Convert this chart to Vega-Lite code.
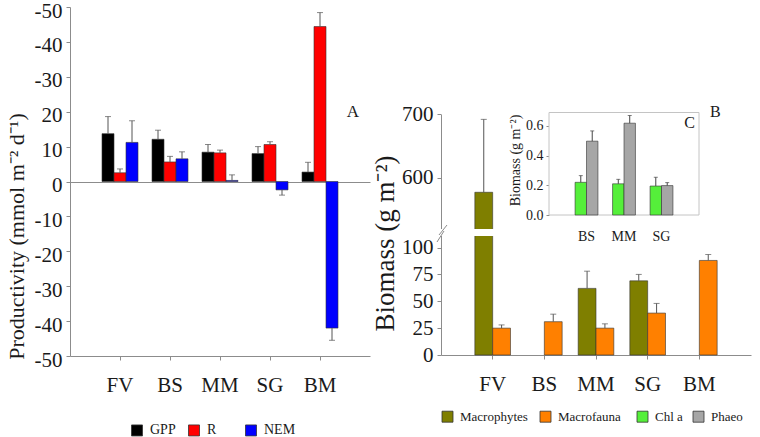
{
  "$schema": "https://vega.github.io/schema/vega-lite/v6.json",
  "width": 760,
  "height": 437,
  "autosize": {"type": "none"},
  "padding": 0,
  "background": "white",
  "config": {
    "view": {"stroke": null},
    "font": "Liberation Serif",
    "axis": {
      "labelFont": "Liberation Serif",
      "titleFont": "Liberation Serif",
      "labelColor": "#1a1a1a",
      "titleColor": "#1a1a1a",
      "titleFontWeight": "normal",
      "domainColor": "#8c8c8c",
      "tickColor": "#8c8c8c",
      "tickSize": 4,
      "grid": false
    },
    "legend": {
      "labelFont": "Liberation Serif",
      "labelFontSize": 13,
      "labelColor": "#1a1a1a",
      "symbolType": "square",
      "symbolSize": 121,
      "symbolStrokeColor": "#333333",
      "symbolStrokeWidth": 0.8,
      "symbolOpacity": 1,
      "labelOffset": 6,
      "padding": 0
    }
  },
  "datasets": {
    "prod": [
      {"site": "FV", "var": "GPP", "value": 13.7, "hi": 18.6},
      {"site": "FV", "var": "R", "value": 2.5, "hi": 3.6},
      {"site": "FV", "var": "NEM", "value": 11.2, "hi": 17.4},
      {"site": "BS", "var": "GPP", "value": 12.1, "hi": 14.7},
      {"site": "BS", "var": "R", "value": 5.6, "hi": 7.2},
      {"site": "BS", "var": "NEM", "value": 6.5, "hi": 8.5},
      {"site": "MM", "var": "GPP", "value": 8.4, "hi": 10.6},
      {"site": "MM", "var": "R", "value": 8.2, "hi": 9.0},
      {"site": "MM", "var": "NEM", "value": 0.3, "hi": 1.9},
      {"site": "SG", "var": "GPP", "value": 8.0, "hi": 10.0},
      {"site": "SG", "var": "R", "value": 10.6, "hi": 11.4},
      {"site": "SG", "var": "NEM", "value": -2.4, "hi": -3.9},
      {"site": "BM", "var": "GPP", "value": 2.7, "hi": 5.5},
      {"site": "BM", "var": "R", "value": 44.4, "hi": 48.4},
      {"site": "BM", "var": "NEM", "value": -42.0, "hi": -45.5}
    ],
    "bio": [
      {"site": "FV", "var": "Macrophytes", "value": 577, "hi": 692},
      {"site": "FV", "var": "Macrofauna", "value": 25, "hi": 28},
      {"site": "BS", "var": "Macrofauna", "value": 31, "hi": 38},
      {"site": "MM", "var": "Macrophytes", "value": 62, "hi": 78},
      {"site": "MM", "var": "Macrofauna", "value": 25, "hi": 29},
      {"site": "SG", "var": "Macrophytes", "value": 69, "hi": 75},
      {"site": "SG", "var": "Macrofauna", "value": 39, "hi": 48},
      {"site": "BM", "var": "Macrofauna", "value": 88, "hi": 93.5}
    ],
    "pig": [
      {"site": "BS", "var": "Chl a", "value": 0.22, "hi": 0.265},
      {"site": "BS", "var": "Phaeo", "value": 0.497, "hi": 0.566},
      {"site": "MM", "var": "Chl a", "value": 0.21, "hi": 0.24},
      {"site": "MM", "var": "Phaeo", "value": 0.618, "hi": 0.67},
      {"site": "SG", "var": "Chl a", "value": 0.195, "hi": 0.254},
      {"site": "SG", "var": "Phaeo", "value": 0.198, "hi": 0.218}
    ]
  },
  "resolve": {
    "scale": {"x": "independent", "y": "independent", "xOffset": "independent", "color": "independent", "x2": "independent", "y2": "independent"},
    "axis": {"x": "independent", "y": "independent"},
    "legend": {"color": "independent"}
  },
  "layer": [
    {
      "data": {"name": "prod"},
      "layer": [
        {
          "mark": {"type": "bar", "stroke": "#333333", "strokeWidth": 0.6},
          "encoding": {
            "x": {
              "field": "site", "type": "nominal", "sort": null,
              "scale": {"domain": ["FV", "BS", "MM", "SG", "BM"], "range": [70, 370], "paddingInner": 0.28, "paddingOuter": 0.64},
              "axis": {"orient": "bottom", "offset": -81, "title": null, "labelFontSize": 21, "labelAngle": 0, "labelPadding": 14}
            },
            "xOffset": {
              "field": "var", "type": "nominal",
              "scale": {"domain": ["GPP", "R", "NEM"], "paddingInner": 0, "paddingOuter": 0}
            },
            "y": {
              "field": "value", "type": "quantitative",
              "scale": {"domain": [-50, 50], "range": [356, 7], "nice": false, "zero": false},
              "axis": {
                "orient": "left", "offset": -70,
                "values": [-50, -40, -30, -20, -10, 0, 10, 20, 30, 40, 50],
                "labelExpr": "(datum.value > 20 || datum.value < 0) ? '-' + abs(datum.value) : '' + datum.value",
                "labelFontSize": 21, "labelPadding": 4, "labelOffset": 4,
                "title": "Productivity (mmol m⁻² d⁻¹)", "titleFontSize": 22, "titlePadding": 6, "titleY": 236,
                "grid": true,
                "gridColor": {"condition": {"test": "datum.value === 0", "value": "#8c8c8c"}, "value": "transparent"},
                "gridWidth": 1
              }
            },
            "color": {
              "field": "var", "type": "nominal",
              "scale": {"domain": ["GPP", "R", "NEM"], "range": ["#000000", "#ff0000", "#0000ff"]},
              "legend": {
                "orient": "none", "legendX": 130, "legendY": 423, "direction": "horizontal", "title": null, "gridAlign": "all", "columnPadding": 4,
                "labelFont": "Liberation Serif", "labelFontSize": 14
              }
            }
          }
        },
        {
          "mark": {"type": "rule", "color": "#555555", "strokeWidth": 1},
          "encoding": {
            "x": {"field": "site", "type": "nominal", "sort": null},
            "xOffset": {"field": "var", "type": "nominal"},
            "y": {"field": "value", "type": "quantitative"},
            "y2": {"field": "hi"}
          }
        },
        {
          "mark": {"type": "tick", "color": "#555555", "size": 6, "thickness": 1, "orient": "horizontal"},
          "encoding": {
            "x": {"field": "site", "type": "nominal", "sort": null},
            "xOffset": {"field": "var", "type": "nominal"},
            "y": {"field": "hi", "type": "quantitative"}
          }
        },
        {
          "data": {"values": [{"t": "A"}]},
          "mark": {"type": "text", "fontSize": 17, "dx": 33, "baseline": "middle", "color": "#1a1a1a", "font": "Liberation Serif"},
          "encoding": {
            "x": {"datum": "BM", "type": "nominal"},
            "y": {"datum": 20, "type": "quantitative"},
            "text": {"field": "t"}
          }
        }
      ]
    },
    {
      "data": {"name": "bio"},
      "layer": [
        {
          "mark": {"type": "bar", "stroke": "#333333", "strokeWidth": 0.6},
          "encoding": {
            "x": {
              "field": "site", "type": "nominal", "sort": null,
              "scale": {"domain": ["FV", "BS", "MM", "SG", "BM"], "range": [441, 751], "paddingInner": 0.31, "paddingOuter": 0.655},
              "axis": {"orient": "bottom", "offset": -82, "title": null, "labelFontSize": 21, "labelAngle": 0, "labelPadding": 14}
            },
            "xOffset": {
              "field": "var", "type": "nominal",
              "scale": {"domain": ["Macrophytes", "Macrofauna"], "paddingInner": 0, "paddingOuter": 0}
            },
            "y": {
              "field": "value", "type": "quantitative",
              "scale": {"domain": [0, 110, 520, 700], "range": [355, 236.8, 228.4, 114.3], "nice": false, "zero": false},
              "axis": {
                "orient": "left", "offset": -441,
                "values": [0, 25, 50, 75, 100, 600, 700],
                "labelFontSize": 21, "labelPadding": 4,
                "title": "Biomass (g m⁻²)", "titleFontSize": 27, "titlePadding": 2, "titleY": 243
              }
            },
            "color": {
              "field": "var", "type": "nominal",
              "scale": {"domain": ["Macrophytes", "Macrofauna"], "range": ["#7f7f00", "#ff8000"]},
              "legend": {
                "orient": "none", "legendX": 441, "legendY": 410, "direction": "horizontal", "title": null, "columnPadding": 10,
                "labelFont": "Liberation Serif", "labelFontSize": 13
              }
            }
          }
        },
        {
          "mark": {"type": "rule", "color": "#555555", "strokeWidth": 1},
          "encoding": {
            "x": {"field": "site", "type": "nominal", "sort": null},
            "xOffset": {"field": "var", "type": "nominal"},
            "y": {"field": "value", "type": "quantitative"},
            "y2": {"field": "hi"}
          }
        },
        {
          "mark": {"type": "tick", "color": "#555555", "size": 6, "thickness": 1, "orient": "horizontal"},
          "encoding": {
            "x": {"field": "site", "type": "nominal", "sort": null},
            "xOffset": {"field": "var", "type": "nominal"},
            "y": {"field": "hi", "type": "quantitative"}
          }
        },
        {
          "data": {"values": [{"t": "B"}]},
          "mark": {"type": "text", "fontSize": 16, "dx": 16, "baseline": "middle", "color": "#1a1a1a", "font": "Liberation Serif"},
          "encoding": {
            "x": {"datum": "BM", "type": "nominal"},
            "y": {"datum": 704, "type": "quantitative"},
            "text": {"field": "t"}
          }
        }
      ]
    },
    {
      "data": {"values": [{"k": 1}]},
      "layer": [
        {
          "mark": {"type": "rect", "fill": "white", "stroke": null},
          "encoding": {
            "x": {"datum": 0, "type": "quantitative", "scale": {"domain": [0, 60], "range": [436, 496], "nice": false, "zero": false}, "axis": null},
            "x2": {"datum": 60},
            "y": {"datum": 2, "type": "quantitative", "scale": {"domain": [0, 12], "range": [238, 226], "nice": false, "zero": false}, "axis": null},
            "y2": {"datum": 9}
          }
        },
        {
          "mark": {"type": "rule", "color": "#8c8c8c", "strokeWidth": 1},
          "encoding": {
            "x": {"datum": 1, "type": "quantitative"},
            "x2": {"datum": 8},
            "y": {"datum": -4, "type": "quantitative"},
            "y2": {"datum": 7}
          }
        },
        {
          "mark": {"type": "rule", "color": "#8c8c8c", "strokeWidth": 1},
          "encoding": {
            "x": {"datum": 3, "type": "quantitative"},
            "x2": {"datum": 11},
            "y": {"datum": 3, "type": "quantitative"},
            "y2": {"datum": 13}
          }
        }
      ]
    },
    {
      "data": {"values": [{"k": 1}]},
      "mark": {"type": "rect", "fill": "white", "stroke": "#c4c4c4", "strokeWidth": 1},
      "encoding": {
        "x": {"datum": 0, "type": "quantitative", "scale": {"domain": [0, 1], "range": [549, 699], "nice": false, "zero": false}, "axis": null},
        "x2": {"datum": 1},
        "y": {"datum": 0, "type": "quantitative", "scale": {"domain": [0, 1], "range": [215, 112.5], "nice": false, "zero": false}, "axis": null},
        "y2": {"datum": 1}
      }
    },
    {
      "data": {"name": "pig"},
      "layer": [
        {
          "mark": {"type": "bar", "stroke": "#333333", "strokeWidth": 0.6},
          "encoding": {
            "x": {
              "field": "site", "type": "nominal", "sort": null,
              "scale": {"domain": ["BS", "MM", "SG"], "range": [549, 699], "paddingInner": 0.39, "paddingOuter": 0.695},
              "axis": {"orient": "bottom", "offset": -222, "title": null, "labelFontSize": 14, "labelAngle": 0, "labelPadding": 14, "ticks": false, "domain": false}
            },
            "xOffset": {
              "field": "var", "type": "nominal",
              "scale": {"domain": ["Chl a", "Phaeo"], "paddingInner": 0, "paddingOuter": 0}
            },
            "y": {
              "field": "value", "type": "quantitative",
              "scale": {"domain": [0, 0.69], "range": [215, 112.5], "nice": false, "zero": false},
              "axis": {
                "orient": "left", "offset": -549,
                "values": [0, 0.2, 0.4, 0.6], "format": ".1f",
                "labelFontSize": 14, "labelPadding": 3, "tickSize": 3, "domain": false,
                "title": "Biomass (g m⁻²)", "titleFontSize": 14, "titlePadding": 3, "titleY": 160
              }
            },
            "color": {
              "field": "var", "type": "nominal",
              "scale": {"domain": ["Chl a", "Phaeo"], "range": ["#55ef3a", "#a6a6a6"]},
              "legend": {
                "orient": "none", "legendX": 636, "legendY": 410, "direction": "horizontal", "title": null, "columnPadding": 8,
                "labelFont": "Liberation Serif", "labelFontSize": 13
              }
            }
          }
        },
        {
          "mark": {"type": "rule", "color": "#444444", "strokeWidth": 1},
          "encoding": {
            "x": {"field": "site", "type": "nominal", "sort": null},
            "xOffset": {"field": "var", "type": "nominal"},
            "y": {"field": "value", "type": "quantitative"},
            "y2": {"field": "hi"}
          }
        },
        {
          "mark": {"type": "tick", "color": "#444444", "size": 4, "thickness": 1, "orient": "horizontal"},
          "encoding": {
            "x": {"field": "site", "type": "nominal", "sort": null},
            "xOffset": {"field": "var", "type": "nominal"},
            "y": {"field": "hi", "type": "quantitative"}
          }
        },
        {
          "data": {"values": [{"t": "C"}]},
          "mark": {"type": "text", "fontSize": 16, "dx": 28, "baseline": "middle", "color": "#1a1a1a", "font": "Liberation Serif"},
          "encoding": {
            "x": {"datum": "SG", "type": "nominal"},
            "y": {"datum": 0.62, "type": "quantitative"},
            "text": {"field": "t"}
          }
        }
      ]
    }
  ]
}
